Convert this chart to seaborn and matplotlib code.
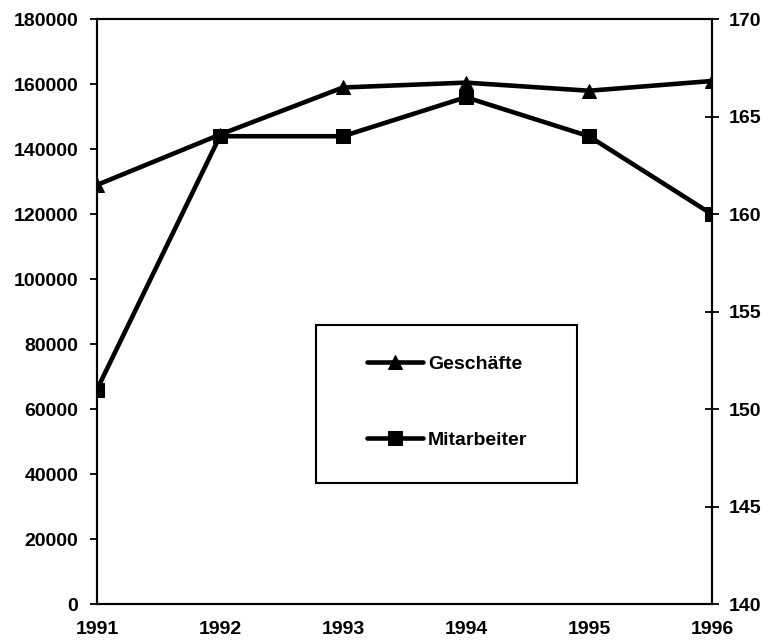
import matplotlib
matplotlib.use("Agg")
import matplotlib.pyplot as plt
import matplotlib.patches as mpatches
import seaborn as sns
import pandas as pd

years = [1991, 1992, 1993, 1994, 1995, 1996]
geschaefte = [129000, 144500, 159000, 160500, 158000, 161000]
mitarbeiter = [151, 164, 164, 166, 164, 160]

left_ticks = list(range(0, 180001, 20000))
right_ticks = list(range(140, 171, 5))

sns.set_style("white")
plt.rcParams['font.family'] = ['Liberation Sans', 'DejaVu Sans']
plt.rcParams['font.weight'] = 'bold'
plt.rcParams['text.color'] = 'black'

df = pd.DataFrame({"Jahr": years, "Geschäfte": geschaefte, "Mitarbeiter": mitarbeiter})

fig = plt.figure(figsize=(7.63, 6.42), dpi=100)
ax = fig.add_axes([0.127, 0.059, 0.806, 0.911])
ax2 = ax.twinx()

sns.lineplot(data=df, x="Jahr", y="Geschäfte", ax=ax, color="black", linewidth=3.3,
             marker="^", markersize=9.5, markeredgecolor="black", label="Geschäfte", legend=False)
sns.lineplot(data=df, x="Jahr", y="Mitarbeiter", ax=ax2, color="black", linewidth=3.3,
             marker="s", markersize=10, markeredgecolor="black", label="Mitarbeiter", legend=False)

ax.set_xlim(1991, 1996)
ax.set_ylim(0, 180000)
ax2.set_ylim(140, 170)
ax.set_xticks(years)
ax.set_yticks(left_ticks)
ax2.set_yticks(right_ticks)
ax.set_xlabel("")
ax.set_ylabel("")
ax2.set_ylabel("")

for a in (ax, ax2):
    for s in a.spines.values():
        s.set_color("black")
        s.set_linewidth(1.5)

fs = 14
ax.tick_params(axis="x", direction="inout", length=10, width=1.3, pad=7.5, labelsize=fs, colors="black")
ax.tick_params(axis="y", direction="out", length=5, width=1.3, pad=8.5, labelsize=fs, colors="black")
ax2.tick_params(axis="y", direction="inout", length=10, width=1.3, pad=7.5, labelsize=fs, colors="black")

# legend box
box = mpatches.Rectangle((316 / 763, 1 - 483 / 642), 261 / 763, 158 / 642,
                         transform=fig.transFigure, facecolor="white",
                         edgecolor="black", linewidth=1.5, zorder=4, clip_on=False)
ax2.add_patch(box)
h1, l1 = ax.get_legend_handles_labels()
h2, l2 = ax2.get_legend_handles_labels()
leg = ax2.legend(h1 + h2, l1 + l2, loc="center", bbox_to_anchor=(447 / 763, 1 - 402 / 642),
                 bbox_transform=fig.transFigure, frameon=False, fontsize=fs,
                 handlelength=2.9, handletextpad=0.25, labelspacing=3.0)
leg.set_zorder(6)
for t in leg.get_texts():
    t.set_color("black")

fig.savefig("out.png", dpi=100)
